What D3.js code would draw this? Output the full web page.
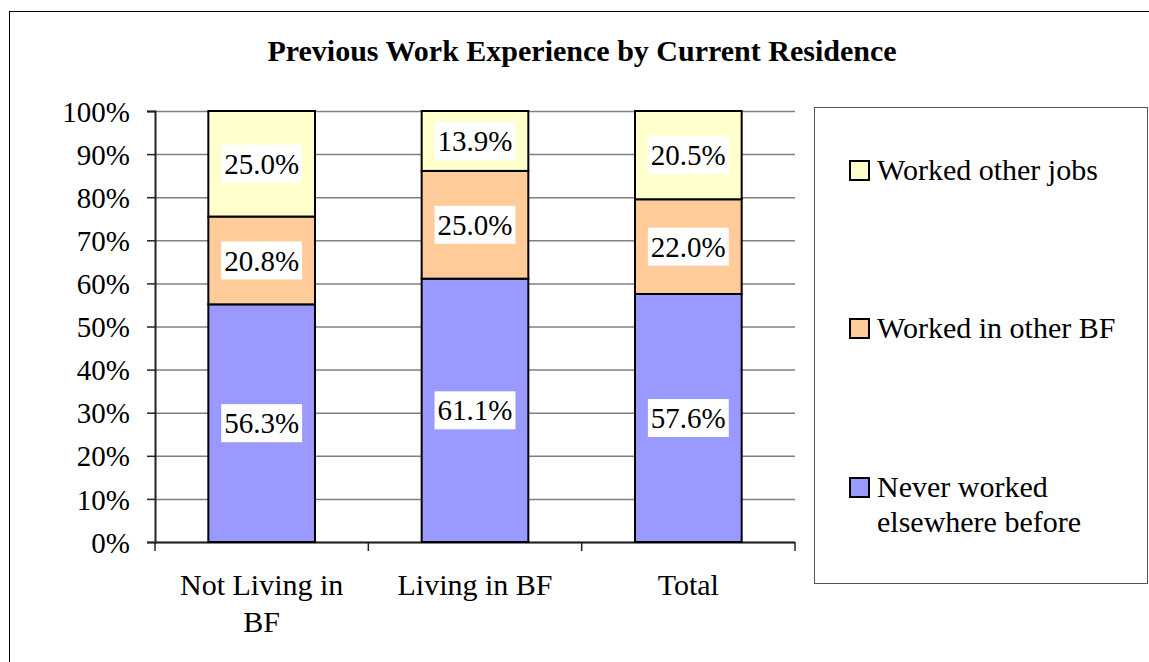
<!DOCTYPE html>
<html>
<head>
<meta charset="utf-8">
<script src="https://cdn.jsdelivr.net/npm/d3@7"></script>
<style>
  body { margin: 0; background: #fff; }
  svg text { font-family: "Liberation Serif", "Times New Roman", serif; fill: #000; }
</style>
</head>
<body>
<svg id="chart" width="1149" height="662"></svg>
<script>
// data
const categories = ["Not Living in BF", "Living in BF", "Total"];
const categoryLines = [["Not Living in", "BF"], ["Living in BF"], ["Total"]];
const seriesNames = ["Never worked elsewhere before", "Worked in other BF", "Worked other jobs"];
const neverWorked = [56.3, 61.1, 57.6];
const workedOtherBF = [20.8, 25.0, 22.0];
const workedOtherJobs = [25.0, 13.9, 20.5];
const tickValues = [0, 10, 20, 30, 40, 50, 60, 70, 80, 90, 100];
const colors = ["#9999ff", "#ffcc99", "#ffffcc"];

const svg = d3.select("#chart");

// outer chart border (runs off right/bottom)
svg.append("rect")
  .attr("x", 9.5).attr("y", 11.5)
  .attr("width", 1160).attr("height", 700)
  .attr("fill", "none").attr("stroke", "#000").attr("stroke-width", 1);

svg.append("text")
  .attr("x", 582).attr("y", 61)
  .attr("text-anchor", "middle")
  .style("font-size", "30px").style("font-weight", "bold")
  .text("Previous Work Experience by Current Residence");

// build rows and normalise to 100%
const rows = categories.map((c, i) => {
  const vals = [neverWorked[i], workedOtherBF[i], workedOtherJobs[i]];
  const sum = d3.sum(vals);
  const r = { cat: c };
  seriesNames.forEach((s, j) => { r[s] = vals[j] / sum; r[s + "_raw"] = vals[j]; });
  return r;
});

const stack = d3.stack().keys(seriesNames);
const stacked = stack(rows);

const x = d3.scaleBand().domain(categories).range([155, 795]).paddingInner(0.5).paddingOuter(0.25);
const y = d3.scaleLinear().domain([0, 1]).range([542, 111]);

// gridlines
svg.append("g")
  .selectAll("line")
  .data(tickValues)
  .join("line")
  .attr("x1", 155).attr("x2", 795)
  .attr("y1", d => y(d / 100) + 0.5).attr("y2", d => y(d / 100) + 0.5)
  .attr("stroke", "#808080").attr("stroke-width", 1.5);

// y axis
const yAxis = svg.append("g")
  .attr("transform", "translate(155,0)")
  .call(d3.axisLeft(y).tickValues(tickValues.map(d => d / 100))
    .tickFormat(d => Math.round(d * 100) + "%").tickSize(8).tickPadding(17));
yAxis.select(".domain").attr("stroke", "#222").attr("stroke-width", 2);
yAxis.selectAll(".tick line").attr("stroke", "#222").attr("stroke-width", 1.5);
yAxis.selectAll(".tick text")
  .style("font-family", "'Liberation Serif', serif").style("font-size", "29px")
  .attr("dy", "0.35em");

// x axis
const xTicks = [0, 1, 2, 3].map(i => 155 + i * (640 / 3));
svg.append("line")
  .attr("x1", 155).attr("x2", 795).attr("y1", 542.5).attr("y2", 542.5)
  .attr("stroke", "#222").attr("stroke-width", 2);
svg.append("g").selectAll("line")
  .data(xTicks).join("line")
  .attr("x1", d => d).attr("x2", d => d)
  .attr("y1", 542).attr("y2", 551)
  .attr("stroke", "#222").attr("stroke-width", 1.5);

// bars
const layer = svg.append("g").selectAll("g")
  .data(stacked)
  .join("g")
  .attr("fill", (d, i) => colors[i]);

layer.selectAll("rect")
  .data(d => d)
  .join("rect")
  .attr("x", d => x(d.data.cat))
  .attr("y", d => y(d[1]))
  .attr("width", x.bandwidth())
  .attr("height", d => y(d[0]) - y(d[1]))
  .attr("stroke", "#000").attr("stroke-width", 2);

// data labels with white boxes
stacked.forEach(s => {
  s.forEach(d => {
    const cx = x(d.data.cat) + x.bandwidth() / 2;
    const cy = (y(d[0]) + y(d[1])) / 2;
    const label = d.data[s.key + "_raw"].toFixed(1) + "%";
    const g = svg.append("g");
    const t = g.append("text")
      .attr("x", cx).attr("y", cy)
      .attr("dy", "0.35em")
      .attr("text-anchor", "middle")
      .style("font-size", "29px")
      .text(label);
    const bb = t.node().getBBox();
    g.insert("rect", "text")
      .attr("x", bb.x - 3).attr("y", cy - 19)
      .attr("width", bb.width + 6).attr("height", 38)
      .attr("fill", "#fff");
  });
});

// category labels
categoryLines.forEach((lines, i) => {
  const cx = x(categories[i]) + x.bandwidth() / 2;
  lines.forEach((ln, k) => {
    svg.append("text")
      .attr("x", cx).attr("y", 595 + k * 37)
      .attr("text-anchor", "middle")
      .style("font-size", "30px")
      .text(ln);
  });
});

// legend
svg.append("rect")
  .attr("x", 814.5).attr("y", 107.5)
  .attr("width", 333).attr("height", 476)
  .attr("fill", "#fff").attr("stroke", "#555").attr("stroke-width", 1);

const legendItems = [
  { name: "Worked other jobs", lines: ["Worked other jobs"], color: colors[2], y: 180 },
  { name: "Worked in other BF", lines: ["Worked in other BF"], color: colors[1], y: 338 },
  { name: "Never worked elsewhere before", lines: ["Never worked", "elsewhere before"], color: colors[0], y: 497 }
];

const leg = svg.append("g").selectAll("g")
  .data(legendItems).join("g");
leg.append("rect")
  .attr("x", 850).attr("y", d => d.y - 19)
  .attr("width", 19).attr("height", 19)
  .attr("fill", d => d.color).attr("stroke", "#000").attr("stroke-width", 2);
leg.each(function(d) {
  d.lines.forEach((ln, k) => {
    d3.select(this).append("text")
      .attr("x", 877).attr("y", d.y + k * 35)
      .style("font-size", "30px")
      .text(ln);
  });
});
</script>
</body>
</html>
